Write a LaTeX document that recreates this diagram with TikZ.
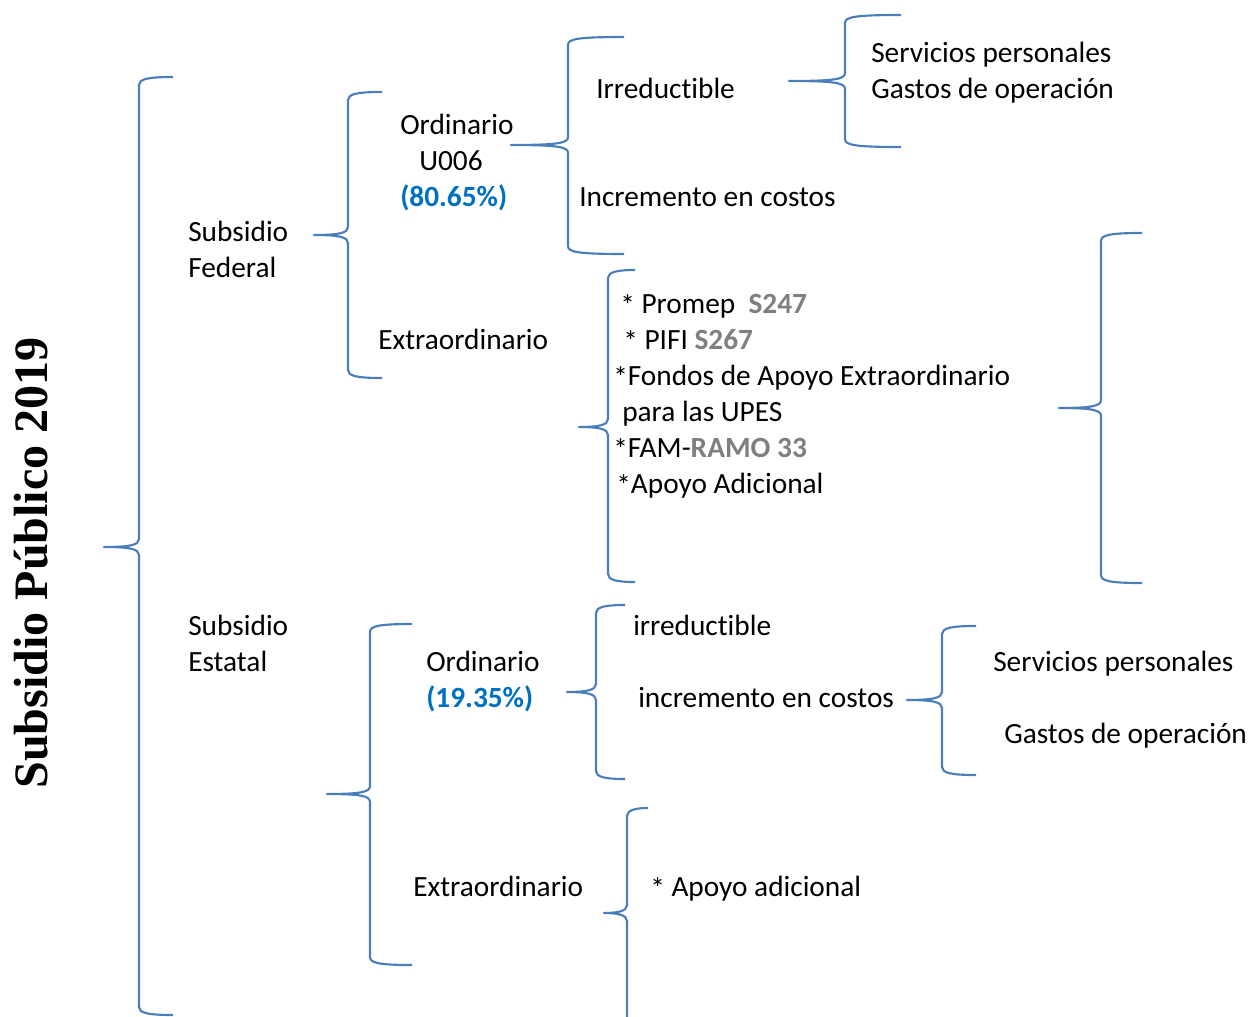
\documentclass[tikz,border=0pt]{standalone}
\usepackage{fontspec}
\setmainfont[Ligatures=CommonOff]{Carlito}
\newfontfamily\titlefont{Liberation Serif}
\definecolor{brc}{HTML}{4A7EBB}
\definecolor{pct}{HTML}{0070C0}
\definecolor{codegray}{HTML}{7F7F7F}
\tikzset{
  bracestyle/.style={draw=brc, line width=1.6pt, line join=round},
  lbl/.style={anchor=base west, inner sep=0pt, font=\fontsize{22}{27}\selectfont},
  pctlbl/.style={lbl, text=pct, font=\fontsize{22}{27}\selectfont\bfseries},
}
% args: V (vertical x), T (top y), M (tip y), B (bottom y), X (tip x), E (end x)
\newcommand\mybrace[6]{%
  \draw[bracestyle] (#6,#2) .. controls ({#1+9},#2) and (#1,{#2+2}) .. (#1,{#2+8})
    -- (#1,{#3-8}) .. controls (#1,{#3-2}) and ({#1-9},#3) .. (#5,#3)
    .. controls ({#1-9},#3) and (#1,{#3+2}) .. (#1,{#3+8})
    -- (#1,{#4-8}) .. controls (#1,{#4-2}) and ({#1+9},#4) .. (#6,#4);}
\newcommand\code[1]{\textbf{\color{codegray}#1}}
\newcommand\myast{\raisebox{-2pt}{*}}
\begin{document}
\begin{tikzpicture}[x=0.75pt,y=-0.75pt]
\clip (0,0) rectangle (1249,1017);

% title
\node[rotate=90, inner sep=0pt, font=\titlefont\bfseries\fontsize{36}{40}\selectfont] (title) at (31,563) {Subsidio Público 2019};

% braces
\mybrace{139}{77}{547}{1015}{104}{173}
\mybrace{348}{92}{235}{378}{314}{382}
\mybrace{568}{37}{145}{254}{511}{624}
\mybrace{845}{15}{81}{147}{789}{901}
\mybrace{608}{270}{427}{582}{579}{635}
\mybrace{1101}{233}{408}{583}{1059}{1142}
\mybrace{370}{624}{794}{965}{327}{412}
\mybrace{596}{605}{692}{779}{567}{625}
\mybrace{942}{626}{700}{775}{907}{976}
\mybrace{627}{808}{913}{1060}{604}{648}

% federal branch
\node[lbl] (fsub1) at (188,241) {Subsidio};
\node[lbl] (fsub2) at (188,277) {Federal};
\node[lbl] (ford1) at (400,134) {Ordinario};
\node[lbl] (ford2) at (419,170) {U006};
\node[pctlbl] (fpct) at (400,206) {(80.65\%)};
\node[lbl] (firr) at (596,98) {Irreductible};
\node[lbl] (finc) at (579,206) {Incremento en costos};
\node[lbl] (fsp) at (871,62) {Servicios personales};
\node[lbl] (fgo) at (871,98) {Gastos de operación};
\node[lbl] (fext) at (378,349) {Extraordinario};
\node[lbl] (fe1) at (620,313) {\myast{} Promep\ \ \code{S247}};
\node[lbl] (fe2) at (623,349) {\myast{} PIFI \code{S267}};
\node[lbl] (fe3) at (613,385) {\myast Fondos de Apoyo Extraordinario};
\node[lbl] (fe4) at (622,421) {para las UPES};
\node[lbl] (fe5) at (613,457) {\myast FAM-\code{RAMO 33}};
\node[lbl] (fe6) at (616,493) {\myast Apoyo Adicional};

% estatal branch
\node[lbl] (esub1) at (188,635) {Subsidio};
\node[lbl] (esub2) at (188,671) {Estatal};
\node[lbl] (eord) at (426,671) {Ordinario};
\node[pctlbl] (epct) at (426,707) {(19.35\%)};
\node[lbl] (eirr) at (633,635) {irreductible};
\node[lbl] (einc) at (638,707) {incremento en costos};
\node[lbl] (esp) at (993,671) {Servicios personales};
\node[lbl] (ego) at (1004,743) {Gastos de operación};
\node[lbl] (eext) at (413,896) {Extraordinario};
\node[lbl] (ee1) at (650,896) {\myast{} Apoyo adicional};
\end{tikzpicture}
\end{document}
